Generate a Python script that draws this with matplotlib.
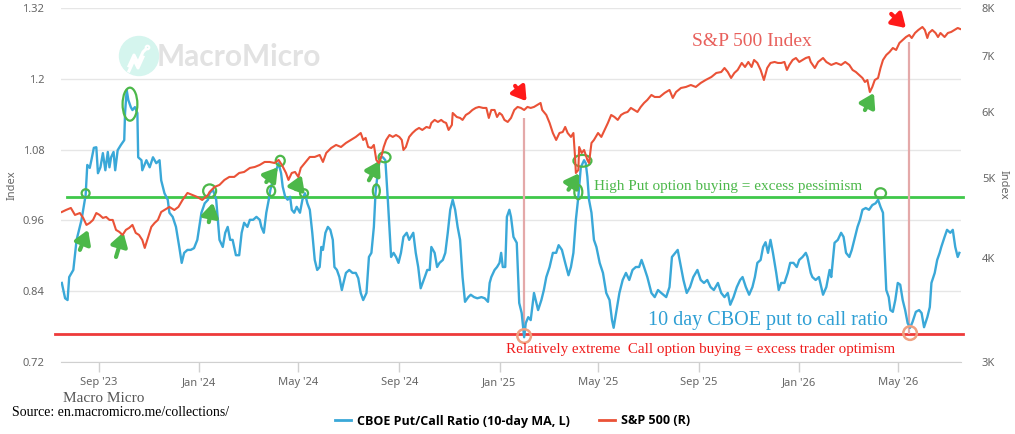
import pandas as pd
import matplotlib
matplotlib.use("Agg")
import matplotlib.pyplot as plt
import matplotlib.dates as mdates
from matplotlib.patches import Ellipse, Circle
from matplotlib.lines import Line2D
from matplotlib.ticker import FixedLocator, FixedFormatter, NullLocator

# CBOE put/call ratio, 10-day MA (left axis)
pcr_dates = [
    "2023-07-18", "2023-07-22", "2023-07-25", "2023-07-27", "2023-08-01", "2023-08-05", "2023-08-11", "2023-08-16", "2023-08-18", "2023-08-21",
    "2023-08-23", "2023-08-26", "2023-08-29", "2023-08-31", "2023-09-03", "2023-09-06", "2023-09-09", "2023-09-12", "2023-09-14", "2023-09-16",
    "2023-09-19", "2023-09-21", "2023-09-24", "2023-09-28", "2023-10-02", "2023-10-03", "2023-10-05", "2023-10-07", "2023-10-10", "2023-10-12",
    "2023-10-15", "2023-10-18", "2023-10-19", "2023-10-23", "2023-10-24", "2023-10-29", "2023-11-02", "2023-11-06", "2023-11-10", "2023-11-14",
    "2023-11-16", "2023-11-20", "2023-11-24", "2023-11-26", "2023-11-30", "2023-12-04", "2023-12-08", "2023-12-11", "2023-12-14", "2023-12-18",
    "2023-12-22", "2023-12-26", "2023-12-30", "2024-01-04", "2024-01-08", "2024-01-12", "2024-01-14", "2024-01-18", "2024-01-22", "2024-01-26",
    "2024-01-30", "2024-02-02", "2024-02-05", "2024-02-08", "2024-02-11", "2024-02-15", "2024-02-19", "2024-02-22", "2024-02-25", "2024-02-29",
    "2024-03-03", "2024-03-07", "2024-03-11", "2024-03-15", "2024-03-17", "2024-03-20", "2024-03-23", "2024-03-26", "2024-03-28", "2024-03-31",
    "2024-04-04", "2024-04-07", "2024-04-10", "2024-04-12", "2024-04-15", "2024-04-18", "2024-04-21", "2024-04-23", "2024-04-26", "2024-04-29",
    "2024-05-03", "2024-05-06", "2024-05-09", "2024-05-12", "2024-05-15", "2024-05-18", "2024-05-21", "2024-05-24", "2024-05-27", "2024-05-29",
    "2024-05-31", "2024-06-03", "2024-06-06", "2024-06-09", "2024-06-12", "2024-06-14", "2024-06-17", "2024-06-20", "2024-06-23", "2024-06-25",
    "2024-06-28", "2024-07-02", "2024-07-06", "2024-07-10", "2024-07-13", "2024-07-16", "2024-07-19", "2024-07-23", "2024-07-26", "2024-07-29",
    "2024-08-01", "2024-08-03", "2024-08-06", "2024-08-09", "2024-08-12", "2024-08-15", "2024-08-18", "2024-08-22", "2024-08-25", "2024-08-28",
    "2024-08-31", "2024-09-03", "2024-09-06", "2024-09-10", "2024-09-13", "2024-09-18", "2024-09-21", "2024-09-24", "2024-09-27", "2024-10-02",
    "2024-10-05", "2024-10-08", "2024-10-10", "2024-10-14", "2024-10-17", "2024-10-20", "2024-10-24", "2024-10-27", "2024-10-30", "2024-11-02",
    "2024-11-05", "2024-11-08", "2024-11-11", "2024-11-14", "2024-11-17", "2024-11-20", "2024-11-24", "2024-11-27", "2024-12-01", "2024-12-05",
    "2024-12-10", "2024-12-14", "2024-12-18", "2024-12-20", "2024-12-22", "2024-12-26", "2024-12-29", "2025-01-01", "2025-01-03", "2025-01-05",
    "2025-01-08", "2025-01-10", "2025-01-13", "2025-01-15", "2025-01-18", "2025-01-22", "2025-01-25", "2025-01-28", "2025-01-31", "2025-02-02",
    "2025-02-05", "2025-02-08", "2025-02-12", "2025-02-15", "2025-02-17", "2025-02-21", "2025-02-24", "2025-02-27", "2025-03-03", "2025-03-07",
    "2025-03-11", "2025-03-14", "2025-03-18", "2025-03-22", "2025-03-26", "2025-03-29", "2025-04-01", "2025-04-04", "2025-04-07", "2025-04-10",
    "2025-04-14", "2025-04-16", "2025-04-18", "2025-04-20", "2025-04-23", "2025-04-26", "2025-04-29", "2025-05-03", "2025-05-07", "2025-05-11",
    "2025-05-15", "2025-05-18", "2025-05-20", "2025-05-23", "2025-05-27", "2025-05-31", "2025-06-04", "2025-06-08", "2025-06-12", "2025-06-16",
    "2025-06-20", "2025-06-23", "2025-06-26", "2025-06-30", "2025-07-05", "2025-07-09", "2025-07-13", "2025-07-17", "2025-07-23", "2025-07-27",
    "2025-07-30", "2025-08-03", "2025-08-06", "2025-08-09", "2025-08-13", "2025-08-17", "2025-08-21", "2025-08-25", "2025-08-30", "2025-09-03",
    "2025-09-07", "2025-09-11", "2025-09-15", "2025-09-19", "2025-09-24", "2025-09-28", "2025-10-02", "2025-10-06", "2025-10-09", "2025-10-13",
    "2025-10-17", "2025-10-21", "2025-10-24", "2025-10-28", "2025-11-01", "2025-11-05", "2025-11-08", "2025-11-11", "2025-11-15", "2025-11-18",
    "2025-11-21", "2025-11-24", "2025-11-27", "2025-11-30", "2025-12-04", "2025-12-07", "2025-12-10", "2025-12-14", "2025-12-18", "2025-12-21",
    "2025-12-25", "2025-12-29", "2026-01-01", "2026-01-05", "2026-01-09", "2026-01-11", "2026-01-15", "2026-01-17", "2026-01-21", "2026-01-25",
    "2026-01-30", "2026-02-03", "2026-02-07", "2026-02-09", "2026-02-13", "2026-02-17", "2026-02-21", "2026-02-24", "2026-02-27", "2026-03-03",
    "2026-03-06", "2026-03-09", "2026-03-13", "2026-03-16", "2026-03-19", "2026-03-23", "2026-03-27", "2026-03-31", "2026-04-04", "2026-04-07",
    "2026-04-10", "2026-04-13", "2026-04-15", "2026-04-17", "2026-04-20", "2026-04-22", "2026-04-25", "2026-04-28", "2026-05-01", "2026-05-04",
    "2026-05-07", "2026-05-10", "2026-05-13", "2026-05-16", "2026-05-19", "2026-05-23", "2026-05-27", "2026-05-30", "2026-06-02", "2026-06-06",
    "2026-06-09", "2026-06-11", "2026-06-15", "2026-06-18", "2026-06-21", "2026-06-23", "2026-06-27", "2026-06-30", "2026-07-04", "2026-07-07",
    "2026-07-10", "2026-07-13", "2026-07-15",
]
pcr_values = [
    0.854, 0.828, 0.825, 0.864, 0.876, 0.927, 0.961, 1.003, 1.054, 1.049,
    1.062, 1.083, 1.084, 1.040, 1.050, 1.074, 1.045, 1.076, 1.050, 1.067,
    1.076, 1.045, 1.079, 1.088, 1.096, 1.142, 1.181, 1.164, 1.152, 1.147,
    1.152, 1.142, 1.067, 1.062, 1.045, 1.062, 1.050, 1.067, 1.057, 1.062,
    1.028, 1.006, 0.995, 0.973, 0.966, 0.949, 0.915, 0.888, 0.905, 0.910,
    0.910, 0.913, 0.927, 0.973, 0.989, 0.995, 1.006, 1.012, 0.995, 0.927,
    0.915, 0.939, 0.949, 0.927, 0.927, 0.901, 0.901, 0.939, 0.956, 0.949,
    0.961, 0.961, 0.966, 0.961, 0.949, 0.939, 0.973, 0.995, 1.012, 1.028,
    1.045, 1.057, 1.040, 1.017, 1.000, 0.995, 1.000, 0.978, 0.973, 0.983,
    0.973, 0.995, 1.006, 0.989, 0.978, 0.939, 0.893, 0.876, 0.881, 0.915,
    0.910, 0.939, 0.949, 0.944, 0.927, 0.881, 0.876, 0.864, 0.842, 0.854,
    0.871, 0.876, 0.871, 0.871, 0.862, 0.837, 0.825, 0.837, 0.898, 0.905,
    0.949, 1.006, 1.045, 1.067, 1.067, 1.062, 0.995, 0.898, 0.905, 0.898,
    0.888, 0.905, 0.932, 0.939, 0.927, 0.939, 0.905, 0.881, 0.845, 0.864,
    0.876, 0.876, 0.915, 0.905, 0.881, 0.888, 0.893, 0.905, 0.939, 0.978,
    0.995, 0.978, 0.949, 0.927, 0.864, 0.822, 0.830, 0.834, 0.830, 0.828,
    0.830, 0.828, 0.822, 0.854, 0.864, 0.876, 0.881, 0.888, 0.905, 0.881,
    0.881, 0.966, 0.978, 0.966, 0.932, 0.922, 0.820, 0.803, 0.762, 0.786,
    0.796, 0.791, 0.837, 0.820, 0.808, 0.825, 0.842, 0.864, 0.881, 0.905,
    0.905, 0.918, 0.910, 0.888, 0.867, 0.881, 0.905, 0.961, 1.000, 1.050,
    1.062, 1.057, 1.034, 0.995, 0.973, 0.927, 0.915, 0.888, 0.871, 0.837,
    0.825, 0.791, 0.778, 0.803, 0.837, 0.859, 0.871, 0.859, 0.876, 0.881,
    0.881, 0.893, 0.881, 0.864, 0.837, 0.830, 0.842, 0.837, 0.830, 0.847,
    0.898, 0.905, 0.910, 0.888, 0.859, 0.837, 0.847, 0.864, 0.876, 0.859,
    0.854, 0.859, 0.847, 0.842, 0.854, 0.837, 0.830, 0.837, 0.817, 0.830,
    0.847, 0.859, 0.864, 0.847, 0.834, 0.847, 0.864, 0.888, 0.893, 0.915,
    0.923, 0.905, 0.927, 0.905, 0.871, 0.842, 0.854, 0.854, 0.871, 0.888,
    0.888, 0.881, 0.893, 0.898, 0.905, 0.898, 0.871, 0.864, 0.859, 0.864,
    0.834, 0.847, 0.876, 0.864, 0.922, 0.927, 0.939, 0.932, 0.905, 0.898,
    0.910, 0.927, 0.949, 0.961, 0.978, 0.981, 0.978, 0.986, 0.989, 0.995,
    0.983, 0.973, 0.905, 0.842, 0.830, 0.808, 0.805, 0.825, 0.854, 0.851,
    0.825, 0.808, 0.786, 0.778, 0.788, 0.805, 0.808, 0.803, 0.779, 0.796,
    0.813, 0.854, 0.871, 0.893, 0.905, 0.915, 0.932, 0.944, 0.939, 0.944,
    0.915, 0.898, 0.905,
]

# S&P 500 (right axis, log)
spx_dates = [
    "2023-07-18", "2023-07-23", "2023-07-29", "2023-08-03", "2023-08-09", "2023-08-13", "2023-08-17", "2023-08-21", "2023-08-25", "2023-08-29",
    "2023-09-02", "2023-09-06", "2023-09-10", "2023-09-14", "2023-09-18", "2023-09-22", "2023-09-26", "2023-09-30", "2023-10-04", "2023-10-08",
    "2023-10-12", "2023-10-16", "2023-10-20", "2023-10-24", "2023-10-27", "2023-10-30", "2023-11-04", "2023-11-08", "2023-11-12", "2023-11-16",
    "2023-11-20", "2023-11-26", "2023-12-02", "2023-12-07", "2023-12-12", "2023-12-18", "2023-12-24", "2023-12-30", "2024-01-05", "2024-01-12",
    "2024-01-14", "2024-01-20", "2024-01-26", "2024-02-01", "2024-02-07", "2024-02-13", "2024-02-19", "2024-02-25", "2024-03-03", "2024-03-09",
    "2024-03-15", "2024-03-21", "2024-03-27", "2024-04-02", "2024-04-07", "2024-04-11", "2024-04-16", "2024-04-19", "2024-04-23", "2024-04-27",
    "2024-05-01", "2024-05-04", "2024-05-09", "2024-05-15", "2024-05-21", "2024-05-27", "2024-05-31", "2024-06-04", "2024-06-10", "2024-06-16",
    "2024-06-22", "2024-06-28", "2024-07-04", "2024-07-10", "2024-07-16", "2024-07-19", "2024-07-22", "2024-07-25", "2024-07-29", "2024-08-01",
    "2024-08-04", "2024-08-07", "2024-08-10", "2024-08-13", "2024-08-16", "2024-08-20", "2024-08-24", "2024-08-28", "2024-09-01", "2024-09-04",
    "2024-09-06", "2024-09-09", "2024-09-13", "2024-09-17", "2024-09-21", "2024-09-25", "2024-09-29", "2024-10-04", "2024-10-08", "2024-10-10",
    "2024-10-14", "2024-10-18", "2024-10-22", "2024-10-25", "2024-10-28", "2024-10-31", "2024-11-04", "2024-11-05", "2024-11-10", "2024-11-14",
    "2024-11-17", "2024-11-21", "2024-11-25", "2024-11-29", "2024-12-03", "2024-12-07", "2024-12-12", "2024-12-16", "2024-12-19", "2024-12-22",
    "2024-12-26", "2024-12-29", "2025-01-01", "2025-01-04", "2025-01-07", "2025-01-11", "2025-01-15", "2025-01-19", "2025-01-23", "2025-01-27",
    "2025-01-31", "2025-02-04", "2025-02-08", "2025-02-12", "2025-02-16", "2025-02-20", "2025-02-22", "2025-02-27", "2025-03-03", "2025-03-07",
    "2025-03-11", "2025-03-15", "2025-03-19", "2025-03-22", "2025-03-25", "2025-03-29", "2025-04-01", "2025-04-03", "2025-04-04", "2025-04-07",
    "2025-04-08", "2025-04-11", "2025-04-14", "2025-04-18", "2025-04-20", "2025-04-23", "2025-04-26", "2025-05-01", "2025-05-05", "2025-05-09",
    "2025-05-13", "2025-05-17", "2025-05-21", "2025-05-25", "2025-05-29", "2025-06-02", "2025-06-06", "2025-06-10", "2025-06-14", "2025-06-18",
    "2025-06-22", "2025-06-26", "2025-06-30", "2025-07-05", "2025-07-09", "2025-07-15", "2025-07-21", "2025-07-27", "2025-07-31", "2025-08-04",
    "2025-08-10", "2025-08-16", "2025-08-22", "2025-08-28", "2025-09-03", "2025-09-09", "2025-09-16", "2025-09-22", "2025-09-28", "2025-10-02",
    "2025-10-06", "2025-10-10", "2025-10-14", "2025-10-18", "2025-10-23", "2025-10-27", "2025-10-31", "2025-11-04", "2025-11-07", "2025-11-11",
    "2025-11-15", "2025-11-19", "2025-11-23", "2025-11-27", "2025-12-02", "2025-12-06", "2025-12-10", "2025-12-14", "2025-12-17", "2025-12-20",
    "2025-12-24", "2025-12-28", "2026-01-01", "2026-01-05", "2026-01-09", "2026-01-13", "2026-01-15", "2026-01-20", "2026-01-24", "2026-01-30",
    "2026-02-03", "2026-02-09", "2026-02-15", "2026-02-21", "2026-02-26", "2026-03-03", "2026-03-07", "2026-03-11", "2026-03-15", "2026-03-19",
    "2026-03-22", "2026-03-25", "2026-03-28", "2026-03-31", "2026-04-03", "2026-04-07", "2026-04-10", "2026-04-13", "2026-04-17", "2026-04-21",
    "2026-04-25", "2026-04-29", "2026-05-03", "2026-05-07", "2026-05-11", "2026-05-15", "2026-05-18", "2026-05-22", "2026-05-26", "2026-05-31",
    "2026-06-03", "2026-06-06", "2026-06-08", "2026-06-12", "2026-06-16", "2026-06-19", "2026-06-22", "2026-06-27", "2026-07-01", "2026-07-05",
    "2026-07-09", "2026-07-13", "2026-07-16",
]
spx_values = [
    4546, 4571, 4597, 4509, 4533, 4472, 4386, 4410, 4447, 4533,
    4509, 4472, 4484, 4447, 4447, 4326, 4302, 4266, 4326, 4350,
    4386, 4290, 4266, 4207, 4115, 4207, 4362, 4410, 4447, 4546,
    4571, 4610, 4571, 4610, 4700, 4792, 4766, 4739, 4700, 4766,
    4806, 4873, 4900, 4968, 5010, 5010, 5065, 5079, 5136, 5150,
    5179, 5222, 5222, 5207, 5251, 5179, 5065, 4968, 5065, 5079,
    5010, 5136, 5207, 5295, 5295, 5324, 5222, 5354, 5428, 5474,
    5443, 5504, 5550, 5597, 5658, 5550, 5581, 5443, 5428, 5474,
    5251, 5207, 5295, 5443, 5550, 5627, 5597, 5627, 5597, 5550,
    5398, 5443, 5597, 5658, 5706, 5738, 5706, 5754, 5738, 5818,
    5867, 5834, 5867, 5834, 5818, 5706, 5786, 5981, 5915, 5899,
    5867, 5948, 5981, 6031, 6065, 6082, 6065, 6065, 5899, 6031,
    6031, 5915, 5981, 5948, 5867, 5834, 5899, 6031, 6082, 6065,
    6031, 6082, 6065, 6082, 6115, 6149, 6031, 5948, 5818, 5658,
    5550, 5658, 5674, 5754, 5658, 5597, 5658, 5295, 5065, 5107,
    5443, 5354, 5398, 5251, 5207, 5504, 5550, 5658, 5597, 5706,
    5818, 5948, 5915, 5867, 5948, 5981, 5998, 6065, 6031, 5998,
    6082, 6149, 6201, 6287, 6252, 6252, 6322, 6375, 6235, 6339,
    6410, 6428, 6463, 6428, 6499, 6553, 6608, 6682, 6700, 6775,
    6700, 6590, 6682, 6738, 6870, 6794, 6889, 6794, 6927, 6870,
    6738, 6553, 6775, 6870, 6889, 6870, 6870, 6889, 6738, 6832,
    6927, 6965, 6889, 6927, 6965, 6985, 6889, 6775, 6889, 6965,
    6889, 6832, 6870, 6832, 6889, 6832, 6738, 6700, 6645, 6590,
    6517, 6553, 6339, 6428, 6553, 6590, 6775, 6927, 7023, 7082,
    7161, 7122, 7261, 7322, 7382, 7423, 7362, 7465, 7527, 7590,
    7527, 7362, 7465, 7527, 7465, 7382, 7465, 7382, 7465, 7486,
    7527, 7569, 7548,
]

left_ticks = [0.72, 0.84, 0.96, 1.08, 1.2, 1.32]
left_labels = ["0.72", "0.84", "0.96", "1.08", "1.2", "1.32"]
right_ticks = [3000, 4000, 5000, 6000, 7000, 8000]
right_labels = ["3K", "4K", "5K", "6K", "7K", "8K"]
month_ticks = ["2023-09-01", "2024-01-01", "2024-05-01", "2024-09-01", "2025-01-01",
               "2025-05-01", "2025-09-01", "2026-01-01", "2026-05-01"]

pessimism_level = 1.0
optimism_level = 0.767

BLUE = "#3aa8d8"
RED = "#ea5237"
GREEN = "#3fc84a"
ARROW_GREEN = "#4cb84a"
GRAY = "#666666"
SERIF = "Liberation Serif"

pcr_x = pd.to_datetime(pcr_dates)
spx_x = pd.to_datetime(spx_dates)

fig = plt.figure(figsize=(10.15, 4.34), dpi=100, facecolor="white")
ax = fig.add_axes([61 / 1015, 1 - 362 / 434, 900 / 1015, 354 / 434])
ax2 = ax.twinx()
ax.patch.set_visible(False)
ax2.patch.set_visible(False)

# watermark
fig.add_artist(Circle((1.39, 3.78), 0.195, transform=fig.dpi_scale_trans,
                      color="#d5f5ee", zorder=0))
fig.add_artist(Line2D([1.29, 1.34, 1.38, 1.43, 1.46], [3.68, 3.79, 3.71, 3.82, 3.85],
                      transform=fig.dpi_scale_trans, color="white", lw=2.2, zorder=0.5))
fig.add_artist(Line2D([1.29, 1.34, 1.38, 1.43], [3.63, 3.74, 3.66, 3.77],
                      transform=fig.dpi_scale_trans, color="white", lw=2.2, zorder=0.5))
fig.add_artist(Circle((1.475, 3.865), 0.018, transform=fig.dpi_scale_trans,
                      fill=False, ec="white", lw=1.5, zorder=0.5))
fig.text(157 / 1015, 1 - 57 / 434, "MacroMicro", fontsize=21.5, color="#e2e2e2",
         family="Lato", weight="bold", va="center", zorder=0)

ax.plot(pcr_x, pcr_values, color=BLUE, lw=1.7, zorder=3)
ax2.plot(spx_x, spx_values, color=RED, lw=1.5, zorder=3)

# reference levels
x_lo = pd.Timestamp("2023-07-17")
x_hi = pd.Timestamp("2026-07-17")
ax.axhline(pessimism_level, xmin=6 / 900, xmax=1.002, color=GREEN, lw=2, zorder=2, clip_on=False)
ax.axhline(optimism_level, xmin=-6 / 900, xmax=1.002, color="#ee3a3a", lw=2, zorder=2, clip_on=False)

# vertical markers
ax.vlines(pd.Timestamp("2025-01-31"), 0.767, 1.134, color="#e4a9a9", lw=1.6, zorder=2)
ax.vlines(pd.Timestamp("2026-05-15"), 0.767, 1.262, color="#e4a9a9", lw=1.6, zorder=2)

# green circles
green_rings = [("2023-08-16", 1.006, 9.7, 0.0136), ("2023-10-09", 1.157, 18, 0.056),
               ("2024-01-14", 1.010, 15.8, 0.022), ("2024-03-29", 1.010, 9.7, 0.017),
               ("2024-04-09", 1.061, 11, 0.017), ("2024-05-08", 1.006, 9.7, 0.0136),
               ("2024-08-04", 1.010, 8.5, 0.022), ("2024-08-14", 1.067, 14.6, 0.017),
               ("2025-04-07", 1.008, 9.7, 0.024), ("2025-04-12", 1.061, 21.9, 0.020),
               ("2026-04-10", 1.006, 13.4, 0.017)]
for d, v, w, h in green_rings:
    ax.add_patch(Ellipse((mdates.date2num(pd.Timestamp(d)), v), w, h, fill=False,
                         ec=ARROW_GREEN, lw=1.6, zorder=4))
for d, v in [("2025-01-31", 0.764), ("2026-05-16", 0.769)]:
    ax.add_patch(Ellipse((mdates.date2num(pd.Timestamp(d)), v), 16.5, 0.023, fill=False,
                         ec="#f0a080", lw=1.8, zorder=4))

# arrows
green_arrows = [("2023-08-09", 0.910, "2023-08-19", 0.944), ("2023-09-22", 0.898, "2023-10-01", 0.940),
                ("2024-01-13", 0.957, "2024-01-18", 0.990), ("2024-03-23", 1.025, "2024-04-06", 1.050),
                ("2024-04-28", 1.013, "2024-05-05", 1.037), ("2024-07-26", 1.028, "2024-08-08", 1.061),
                ("2025-03-26", 1.012, "2025-04-08", 1.040), ("2026-03-22", 1.147, "2026-04-02", 1.176)]
for d0, v0, d1, v1 in green_arrows:
    ax.annotate("", xy=(pd.Timestamp(d1), v1), xytext=(pd.Timestamp(d0), v0),
                arrowprops=dict(arrowstyle="-|>,head_width=0.5,head_length=0.8",
                                color=ARROW_GREEN, lw=3, shrinkA=0, shrinkB=0), zorder=5)
for d0, v0, d1, v1 in [("2025-01-20", 1.188, "2025-02-03", 1.162), ("2026-04-23", 1.310, "2026-05-11", 1.286)]:
    ax.annotate("", xy=(pd.Timestamp(d1), v1), xytext=(pd.Timestamp(d0), v0),
                arrowprops=dict(arrowstyle="-|>,head_width=0.5,head_length=0.8",
                                color="#ff1a1a", lw=3, shrinkA=0, shrinkB=0), zorder=5)

# axes styling
ax.set_xlim(x_lo, x_hi)
ax.set_ylim(0.72, 1.32)
ax.yaxis.set_major_locator(FixedLocator(left_ticks))
ax.yaxis.set_major_formatter(FixedFormatter(left_labels))
ax.grid(axis="y", color="#e6e6e6", lw=1)
ax.set_axisbelow(True)
ax.xaxis.set_major_locator(FixedLocator(mdates.date2num(pd.to_datetime(month_ticks))))
ax.xaxis.set_major_formatter(mdates.DateFormatter("%b '%y"))

ax2.set_yscale("log")
ax2.set_ylim(3000, 8000)
ax2.yaxis.set_major_locator(FixedLocator(right_ticks))
ax2.yaxis.set_major_formatter(FixedFormatter(right_labels))
ax2.yaxis.set_minor_locator(NullLocator())

for a in (ax, ax2):
    for s in ("top", "left", "right", "bottom"):
        a.spines[s].set_visible(False)
ax.spines["bottom"].set_visible(True)
ax.spines["bottom"].set_color("#d0d0d0")

ax.tick_params(axis="x", length=7, width=1, color="#d0d0d0", pad=4, labelcolor=GRAY, labelsize=8)
ax.tick_params(axis="y", length=0, pad=12, labelcolor=GRAY, labelsize=8)
ax2.tick_params(axis="y", length=0, pad=15, labelcolor=GRAY, labelsize=8)
for lab in ax.get_xticklabels() + ax.get_yticklabels() + ax2.get_yticklabels():
    lab.set_fontfamily("Noto Sans")

fig.text(12 / 1015, 1 - 185 / 434, "Index", rotation=90, color=GRAY, fontsize=8,
         family="Noto Sans", ha="center", va="center")
fig.text(1003 / 1015, 1 - 185 / 434, "Index", rotation=270, color=GRAY, fontsize=8,
         family="Noto Sans", ha="center", va="center")

# annotation texts
fig.text(692 / 1015, 1 - 42 / 434, "S&P 500 Index", color="#e8605c", fontsize=14,
         family=SERIF, va="center")
fig.text(594 / 1015, 1 - 187 / 434, "High Put option buying = excess pessimism",
         color="#4cb84a", fontsize=11, family=SERIF, va="center")
fig.text(648 / 1015, 1 - 321 / 434, "10 day CBOE put to call ratio", color="#2e9fd4",
         fontsize=14.5, family=SERIF, va="center")
fig.text(506 / 1015, 1 - 350 / 434,
         "Relatively extreme  Call option buying = excess trader optimism",
         color="#f01c1c", fontsize=10.8, family=SERIF, va="center")
fig.text(63 / 1015, 1 - 398 / 434, "Macro Micro", color="#555555", fontsize=11,
         family=SERIF, va="center")
fig.text(12 / 1015, 1 - 412 / 434, "Source: en.macromicro.me/collections/", color="black",
         fontsize=10, family=SERIF, va="center")

handles = [Line2D([], [], color=BLUE, lw=2), Line2D([], [], color=RED, lw=2)]
fig.legend(handles, ["CBOE Put/Call Ratio (10-day MA, L)", "S&P 500 (R)"],
           loc="center", bbox_to_anchor=(0.505, 1 - 421 / 434), ncol=2, frameon=False,
           handlelength=1.3, handletextpad=0.5, columnspacing=2.3,
           prop=dict(family="Open Sans", weight="bold", size=9))

fig.savefig("out.png", dpi=100, facecolor="white")
